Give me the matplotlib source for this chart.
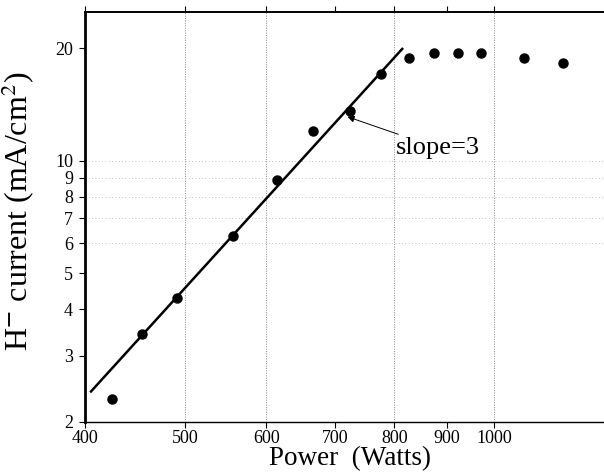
import numpy as np
import matplotlib
matplotlib.use("Agg")
import matplotlib.pyplot as plt
from matplotlib.ticker import FixedLocator, NullLocator

# =========================
# data
# =========================
power = [425, 454, 491, 557, 614, 667, 724, 776, 826, 875, 922, 972, 1069, 1168]
current = [2.30, 3.44, 4.29, 6.30, 8.86, 12.0, 13.6, 17.1, 18.8, 19.4, 19.4, 19.4, 18.8, 18.2]

# slope=3 fit line, end points
fit_power = [405, 814]
fit_current = [2.41, 19.9]

x_ticks = [400, 500, 600, 700, 800, 900, 1000]
y_ticks = [2, 3, 4, 5, 6, 7, 8, 9, 10, 20]
x_grid = [500, 600, 800, 1000]
y_grid = [6, 7, 8, 9, 10]

plt.rcParams["font.family"] = ["Liberation Serif", "DejaVu Serif"]
plt.rcParams["mathtext.fontset"] = "stix"

fig = plt.figure(figsize=(6.04, 4.76), dpi=100)
ax = fig.add_axes([0.1415, 0.114, 0.8585, 0.861])

ax.set_xscale("log")
ax.set_yscale("log")
ax.set_xlim(400, 1280)
ax.set_ylim(2, 25)

# faint dotted grid
for g in x_grid:
    ax.axvline(g, color="#888888", lw=0.7, ls=(0, (1, 1.5)), zorder=0)
for g in y_grid:
    ax.axhline(g, color="#aaaaaa", lw=0.6, ls=(0, (1, 3)), zorder=0)

ax.plot(fit_power, fit_current, color="black", lw=1.8, zorder=2)
ax.plot(power, current, "o", color="black", ms=6.5, zorder=3)

ax.annotate("slope=3", xy=(720, 13.1), xytext=(803, 10.8),
            fontsize=19, va="center", ha="left",
            arrowprops=dict(arrowstyle="-|>", color="black", lw=0.7,
                            mutation_scale=10, shrinkA=0, shrinkB=0))

ax.xaxis.set_major_locator(FixedLocator(x_ticks))
ax.xaxis.set_minor_locator(NullLocator())
ax.set_xticklabels([str(t) for t in x_ticks], fontsize=13)
ax.yaxis.set_major_locator(FixedLocator(y_ticks))
ax.yaxis.set_minor_locator(NullLocator())
ax.set_yticklabels([str(t) for t in y_ticks], fontsize=13)

ax.tick_params(axis="both", direction="out", length=4, width=0.8, pad=5)
ax.tick_params(axis="x", top=True, pad=2)

ax.spines["right"].set_visible(False)
ax.spines["left"].set_linewidth(2.0)
ax.spines["bottom"].set_linewidth(1.0)
ax.spines["top"].set_linewidth(1.4)

ax.set_xlabel("Power  (Watts)", fontsize=19.5)
ax.set_ylabel(r"H$^{\mathbf{-}}$ current (mA/cm$^{2}$)", fontsize=23)
ax.xaxis.set_label_coords(0.51, -0.059)
ax.yaxis.set_label_coords(-0.0935, 0.514)

fig.savefig("out.png", dpi=100)
